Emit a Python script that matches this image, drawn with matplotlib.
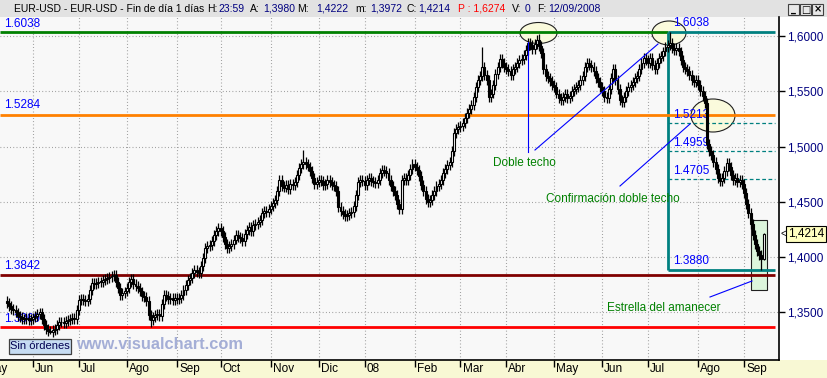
import matplotlib
matplotlib.use('Agg')
import matplotlib.pyplot as plt
from matplotlib.patches import Rectangle, Ellipse
import numpy as np
import pandas as pd

plt.rcParams['font.family'] = ['Liberation Sans', 'DejaVu Sans']

# ---------------- data (daily closes, EUR-USD, 16 May 2007 .. 12 Sep 2008) ----------------
closes = [
    # May 2007 (from 16th)
    1.3586, 1.3560, 1.3535, 1.3520, 1.3500, 1.3470, 1.3460, 1.3445, 1.3440, 1.3450, 1.3430, 1.3440,
    # Jun 2007
    1.3455, 1.3470, 1.3490, 1.3500, 1.3440, 1.3390, 1.3350, 1.3330, 1.3320, 1.3340, 1.3350, 1.3390,
    1.3410, 1.3415, 1.3405, 1.3420, 1.3430, 1.3440, 1.3450, 1.3445, 1.3520,
    # Jul 2007
    1.3610, 1.3620, 1.3615, 1.3600, 1.3620, 1.3700, 1.3770, 1.3760, 1.3770, 1.3780, 1.3775, 1.3790,
    1.3800, 1.3810, 1.3820, 1.3830, 1.3840, 1.3780, 1.3720, 1.3660, 1.3680, 1.3690,
    # Aug 2007
    1.3720, 1.3780, 1.3800, 1.3760, 1.3740, 1.3720, 1.3690, 1.3650, 1.3640, 1.3600, 1.3480, 1.3430,
    1.3460, 1.3480, 1.3490, 1.3470, 1.3580, 1.3660, 1.3650, 1.3620, 1.3630, 1.3615, 1.3630,
    # Sep 2007
    1.3620, 1.3630, 1.3660, 1.3700, 1.3750, 1.3790, 1.3810, 1.3860, 1.3880, 1.3870, 1.3860, 1.3920,
    1.3990, 1.4080, 1.4100, 1.4110, 1.4150, 1.4200, 1.4240, 1.4260,
    # Oct 2007
    1.4240, 1.4180, 1.4120, 1.4080, 1.4100, 1.4120, 1.4160, 1.4200, 1.4180, 1.4170, 1.4150, 1.4210,
    1.4250, 1.4270, 1.4240, 1.4290, 1.4300, 1.4320, 1.4340, 1.4400, 1.4420, 1.4410, 1.4440,
    # Nov 2007
    1.4460, 1.4490, 1.4520, 1.4600, 1.4700, 1.4640, 1.4630, 1.4650, 1.4620, 1.4660, 1.4650, 1.4680,
    1.4740, 1.4810, 1.4840, 1.4860, 1.4840, 1.4820, 1.4780, 1.4720, 1.4660, 1.4680,
    # Dec 2007
    1.4700, 1.4690, 1.4650, 1.4660, 1.4700, 1.4680, 1.4650, 1.4640, 1.4600, 1.4450, 1.4420, 1.4390,
    1.4370, 1.4380, 1.4400, 1.4410, 1.4460, 1.4560, 1.4680, 1.4700, 1.4690,
    # Jan 2008
    1.4650, 1.4700, 1.4720, 1.4690, 1.4680, 1.4670, 1.4700, 1.4760, 1.4790, 1.4780, 1.4760, 1.4700,
    1.4640, 1.4600, 1.4560, 1.4480, 1.4440, 1.4700, 1.4720, 1.4700, 1.4740, 1.4800, 1.4840,
    # Feb 2008
    1.4820, 1.4790, 1.4730, 1.4650, 1.4600, 1.4530, 1.4500, 1.4520, 1.4560, 1.4600, 1.4640, 1.4660,
    1.4700, 1.4760, 1.4800, 1.4830, 1.4860, 1.4960, 1.5120, 1.5160, 1.5180,
    # Mar 2008
    1.5190, 1.5210, 1.5260, 1.5300, 1.5340, 1.5380, 1.5450, 1.5540, 1.5600, 1.5640, 1.5720, 1.5650,
    1.5600, 1.5450, 1.5480, 1.5560, 1.5660, 1.5720, 1.5790, 1.5760, 1.5720,
    # Apr 2008
    1.5700, 1.5680, 1.5650, 1.5700, 1.5720, 1.5760, 1.5780, 1.5790, 1.5830, 1.5870, 1.5940, 1.5920,
    1.5880, 1.5930, 1.5960, 1.5910, 1.5850, 1.5700, 1.5640, 1.5620, 1.5590, 1.5560,
    # May 2008
    1.5540, 1.5480, 1.5440, 1.5420, 1.5450, 1.5480, 1.5440, 1.5460, 1.5500, 1.5520, 1.5540, 1.5560,
    1.5600, 1.5640, 1.5720, 1.5760, 1.5740, 1.5720, 1.5680, 1.5620, 1.5580, 1.5540,
    # Jun 2008
    1.5500, 1.5450, 1.5440, 1.5520, 1.5620, 1.5700, 1.5600, 1.5520, 1.5420, 1.5400, 1.5450, 1.5500,
    1.5540, 1.5560, 1.5580, 1.5620, 1.5640, 1.5700, 1.5760, 1.5800, 1.5780,
    # Jul 2008
    1.5760, 1.5800, 1.5740, 1.5700, 1.5760, 1.5800, 1.5820, 1.5860, 1.5900, 1.5920, 1.5940, 1.5890,
    1.5870, 1.5890, 1.5860, 1.5780, 1.5720, 1.5700, 1.5680, 1.5650, 1.5600, 1.5580, 1.5600,
    # Aug 2008
    1.5560, 1.5500, 1.5460, 1.5390, 1.5020, 1.4960, 1.4920, 1.4860, 1.4800, 1.4720, 1.4690, 1.4720,
    1.4780, 1.4850, 1.4820, 1.4740, 1.4700, 1.4720, 1.4680, 1.4700, 1.4660,
    # Sep 2008
    1.4580, 1.4480, 1.4400, 1.4300, 1.4200, 1.4120, 1.4060, 1.4020, 1.3980, 1.4214,
]
first_open = 1.3600
extreme_highs = {'2007-11-22': 1.4966, '2008-03-17': 1.5903, '2008-04-22': 1.6018,
                 '2008-07-15': 1.6038, '2008-09-12': 1.4222}
extreme_lows = {'2007-06-13': 1.3310, '2007-08-16': 1.3370, '2008-09-11': 1.3880,
                '2008-09-12': 1.3972}

month_labels = ['May', 'Jun', 'Jul', 'Ago', 'Sep', 'Oct', 'Nov', 'Dic', '08',
                'Feb', 'Mar', 'Abr', 'May', 'Jun', 'Jul', 'Ago', 'Sep']
yticks = [1.35, 1.40, 1.45, 1.50, 1.55, 1.60]

level_top = 1.6038       # doble techo
level_orange = 1.5284
level_darkred = 1.3842
level_red = 1.3369
level_box_low = 1.3880
fib_levels = [1.5213, 1.4959, 1.4705]
last_price = 1.4214

header = [("EUR-USD - EUR-USD - Fin de día 1 días", 'k', 14), ("H:", 'k', 207), ("23:59", 'n', 218),
          ("A:", 'k', 250), ("1,3980", 'n', 263), ("M:", 'k', 297), ("1,4222", 'n', 316),
          ("m:", 'k', 355), ("1,3972", 'n', 370), ("C:", 'k', 407), ("1,4214", 'n', 418),
          ("P : 1,6274", 'r', 458), ("V:", 'k', 512), ("0", 'n', 525), ("F:", 'k', 537),
          ("12/09/2008", 'n', 548)]

# ---------------- build OHLC ----------------
dates = pd.bdate_range(end='2008-09-12', periods=len(closes))
c = np.array(closes)
o = np.concatenate([[first_open], c[:-1]])
wick = 0.0045
h = np.maximum(o, c) + wick
l = np.minimum(o, c) - wick
for d, v in extreme_highs.items():
    h[dates.get_loc(pd.Timestamp(d))] = v
for d, v in extreme_lows.items():
    l[dates.get_loc(pd.Timestamp(d))] = v
x = np.arange(len(c))

# ---------------- layout ----------------
W, H = 828, 378
AX_T, AX_B, AX_R = 17, 360, 779
month_starts = [i for i in range(len(dates)) if i == 0 or dates[i].month != dates[i - 1].month]
month_starts = month_starts[1:]               # first June onwards
may_start = month_starts[0] - 23              # 1 May 2007 (23 weekdays in May)
jun1, sep1 = month_starts[0], month_starts[-1]
bar_px = (744 - 33) / (sep1 - jun1)
xl = jun1 - 33 / bar_px
xr = xl + AX_R / bar_px
ppu = 1106.0
ytop = 1.60 + (36 - AX_T) / ppu
ybot = 1.60 - (AX_B - 36) / ppu


def X(px):
    return xl + px / bar_px


def Y(py):
    return ytop - (py - AX_T) / ppu


fig = plt.figure(figsize=(W / 100, H / 100), dpi=100)
fig.patch.set_facecolor('white')
# title bar and bottom band (behind everything)
fig.patches.append(Rectangle((0, 1 - AX_T / H), 1, AX_T / H, transform=fig.transFigure,
                             facecolor='#e2e2e2', edgecolor='none', zorder=-10))
fig.patches.append(Rectangle((0, 0), 1, 1 - AX_B / H, transform=fig.transFigure,
                             facecolor='#f8f8d4', edgecolor='none', zorder=-10))

ax = fig.add_axes([0, 1 - AX_B / H, AX_R / W, (AX_B - AX_T) / H])
ax.set_facecolor('#f8f8f8')
ax.set_xlim(xl, xr)
ax.set_ylim(ybot, ytop)

# grid / ticks
ax.set_xticks(month_starts)
ax.set_xticklabels([''] * len(month_starts))
ax.set_yticks(yticks)
ax.set_yticklabels([f'{v:.4f}'.replace('.', ',') for v in yticks])
ax.grid(True, linestyle=(0, (0.7, 2.2)), color='#8a8a8a', linewidth=0.8, zorder=1)
ax.set_axisbelow(True)
ax.yaxis.tick_right()
ax.tick_params(axis='y', direction='out', length=4, width=1, pad=2, labelsize=8.5,
               labelcolor='#000080', color='black')
ax.tick_params(axis='x', direction='out', length=5, width=1, pad=1)
for s in ['top', 'left']:
    ax.spines[s].set_visible(False)
for s in ['right', 'bottom']:
    ax.spines[s].set_linewidth(1.2)
    ax.spines[s].set_color('black')

# month labels
for lab, pos in zip(month_labels, [may_start] + month_starts):
    ax.annotate(lab, xy=(pos, 0), xycoords=('data', 'axes fraction'), xytext=(1.5, -2.2),
                textcoords='offset points', ha='left', va='top', fontsize=8.5, color='black',
                annotation_clip=False)

# ellipses and boxes (behind candles)
for cx, cy, ew, eh in [(538.5, 33, 37, 21), (669, 33, 34, 24), (713, 115.5, 44, 33)]:
    ax.add_patch(Ellipse((X(cx), Y(cy)), ew / bar_px, eh / ppu, facecolor='#fafadc',
                         edgecolor='#202020', linewidth=0.8, zorder=2))
ax.add_patch(Rectangle((X(751), Y(290)), 16 / bar_px, 70 / ppu, facecolor='#dcf5dc',
                       edgecolor='#202020', linewidth=0.8, zorder=2))

# level lines
x_end = X(775)
x_box = X(668)
ax.hlines(level_top, xl, x_box, color='#008000', linewidth=2, zorder=3)
ax.hlines(level_top, x_box, x_end, color='#008080', linewidth=2, zorder=3)
ax.hlines(level_box_low, x_box, x_end, color='#008080', linewidth=2, zorder=3)
ax.vlines(x_box, level_box_low, level_top, color='#008080', linewidth=2, zorder=3)
ax.hlines(level_orange, xl, x_end, color='#ff8000', linewidth=2, zorder=3)
ax.hlines(level_darkred, xl, x_end, color='#800000', linewidth=2, zorder=3)
ax.hlines(level_red, xl, x_end, color='#ff0000', linewidth=2, zorder=3)
ax.hlines(fib_levels, x_box, x_end, color='#008080', linewidth=0.9, linestyles=(0, (3, 2)), zorder=3)

# level labels
lab_kw = dict(color='#0000ff', fontsize=8.5, va='center', ha='left', zorder=3)
ax.text(X(4), level_top + 7.5 / ppu, f'{level_top:.4f}', **lab_kw)
ax.text(X(673), level_top + 8.5 / ppu, f'{level_top:.4f}', **lab_kw)
ax.text(X(4), level_orange + 10 / ppu, f'{level_orange:.4f}', **lab_kw)
ax.text(X(4), level_darkred + 9 / ppu, f'{level_darkred:.4f}', **lab_kw)
ax.text(X(4), level_red + 8 / ppu, f'{level_red:.4f}', **lab_kw)
for v in fib_levels:
    ax.text(X(673), v + 8 / ppu, f'{v:.4f}', **lab_kw)
ax.text(X(673), level_box_low + 9 / ppu, f'{level_box_low:.4f}', **lab_kw)

# candles
up = c >= o
ax.vlines(x, l, h, color='black', linewidth=0.9, zorder=5)
body_lo = np.minimum(o, c)
body_h = np.maximum(np.abs(c - o), 0.0006)
ax.bar(x[up], body_h[up], bottom=body_lo[up], width=0.9, facecolor='white',
       edgecolor='black', linewidth=0.8, zorder=6)
ax.bar(x[~up], body_h[~up], bottom=body_lo[~up], width=0.9, facecolor='black',
       edgecolor='black', linewidth=0.8, zorder=6)

# annotation lines
for (x1, y1), (x2, y2) in [((528, 42), (528, 152)), ((535, 150), (658, 44)),
                           ((620, 186), (690, 124)), ((710, 297), (752, 281))]:
    ax.plot([X(x1), X(x2)], [Y(y1), Y(y2)], color='#0000ff', linewidth=0.8, zorder=7)

txt_kw = dict(color='#008000', fontsize=8.5, va='center', ha='left', zorder=8)
ax.text(X(493), Y(163), 'Doble techo', **txt_kw)
ax.text(X(546), Y(199), 'Confirmación doble techo', **txt_kw)
ax.text(X(607), Y(308), 'Estrella del amanecer', **txt_kw)

# watermark and "Sin órdenes" box
ax.text(X(76), Y(345), 'www.visualchart.com', color='#a4aed6', fontsize=11.8,
        fontweight='bold', va='center', ha='left', zorder=8)
ax.add_patch(Rectangle((X(9), Y(354)), 62 / bar_px, 15 / ppu, facecolor='#c6dcf2',
                       edgecolor='#404040', linewidth=0.9, zorder=8))
ax.text(X(40), Y(346.5), 'Sin órdenes', color='#000050', fontsize=8, va='center',
        ha='center', zorder=9)

# last price box
fig.text(781 / W, 1 - 234 / H, '<', fontsize=7, va='center', ha='left', color='black')
fig.text(806 / W, 1 - 234 / H, f'{last_price:.4f}'.replace('.', ','), fontsize=8.5,
         va='center', ha='center', color='black',
         bbox=dict(boxstyle='square,pad=0.2', facecolor='#ffffc0', edgecolor='black', linewidth=0.8))

# header texts
cols = {'k': 'black', 'n': '#000080', 'r': '#ff0000'}
for t, col, px in header:
    fig.text(px / W, 1 - 8.5 / H, t, color=cols[col], fontsize=7.5, va='center', ha='left')

# window buttons
for i, sym in enumerate(['_', '□', '×']):
    bx = 788 + i * 12
    fig.patches.append(Rectangle((bx / W, 1 - 15 / H), 11 / W, 11 / H, transform=fig.transFigure,
                                 facecolor='#e8e8e8', edgecolor='#404040', linewidth=0.8))
    fig.text((bx + 5.5) / W, 1 - 9.5 / H, sym, fontsize=7, va='center', ha='center',
             color='black', fontweight='bold', family=['DejaVu Sans'])

fig.savefig('out.png', dpi=100)
